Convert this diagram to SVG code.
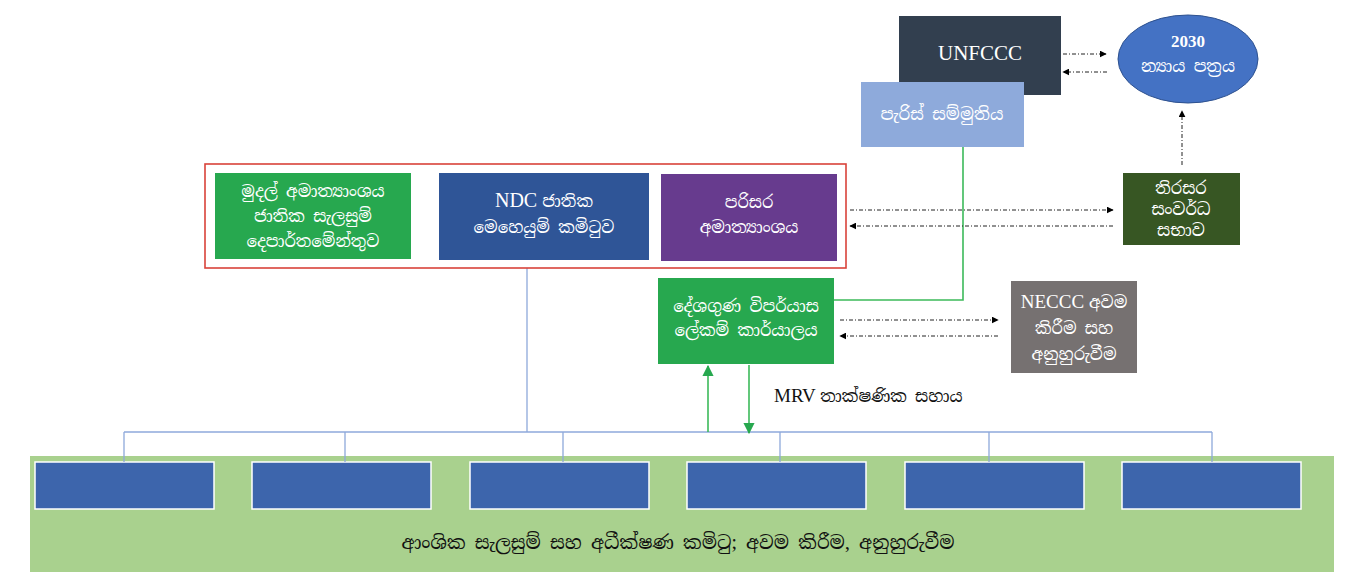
<svg xmlns="http://www.w3.org/2000/svg" width="1345" height="575" viewBox="0 0 1345 575">
  <style>
    .si { font-family: "Noto Serif Sinhala", "Noto Sans Sinhala", "Iskoola Pota", "Liberation Serif", serif; }
    .lat { font-family: "Liberation Serif", "Times New Roman", serif; }
    .w { fill: #ffffff; text-anchor: middle; }
    .k { fill: #111111; }
    .dd { stroke: #222222; stroke-width: 1; stroke-dasharray: 4 2 1 2; fill: none; }
    .tree { stroke: #8ea9db; stroke-width: 1.3; fill: none; }
    .gl { stroke: #3cba5a; stroke-width: 1.6; fill: none; }
    .sub { fill: #3d65ac; stroke: #ffffff; stroke-width: 1.5; }
  </style>
  <defs>
    <marker id="ah" viewBox="0 0 10 10" refX="9" refY="5" markerWidth="7" markerHeight="7" orient="auto">
      <path d="M0,0 L10,5 L0,10 z" fill="#000000"/>
    </marker>
    <marker id="ahg" viewBox="0 0 10 10" refX="9" refY="5" markerWidth="7" markerHeight="7" orient="auto">
      <path d="M0,0 L10,5 L0,10 z" fill="#27a84f"/>
    </marker>
  </defs>

  <rect width="1345" height="575" fill="#ffffff"/>

  <!-- sectoral band -->
  <g id="sectoral">
    <rect x="30" y="456" width="1304" height="116" fill="#a9d18e"/>
    <rect class="sub" x="35" y="462" width="179" height="47"/>
    <rect class="sub" x="252" y="462" width="179" height="47"/>
    <rect class="sub" x="470" y="462" width="179" height="47"/>
    <rect class="sub" x="687" y="462" width="179" height="47"/>
    <rect class="sub" x="905" y="462" width="179" height="47"/>
    <rect class="sub" x="1122" y="462" width="179" height="47"/>
    <text class="si k" x="678" y="549" font-size="18.5" text-anchor="middle">ආංශික සැලසුම් සහ අධීක්ෂණ කමිටු; අවම කිරීම, අනුහුරුවීම</text>
  </g>

  <!-- connectors -->
  <g id="connectors">
    <path class="tree" d="M527,268 V432 M124,432 H1212 M124,432 V462 M345,432 V462 M563,432 V462 M780,432 V462 M989,432 V462 M1212,432 V462"/>
    <path class="gl" d="M963,147 V300 H834"/>
    <line class="gl" x1="708" y1="432" x2="708" y2="366" marker-end="url(#ahg)"/>
    <line class="gl" x1="749" y1="365" x2="749" y2="433" marker-end="url(#ahg)"/>
    <line class="dd" x1="1063" y1="54" x2="1106" y2="54" marker-end="url(#ah)"/>
    <line class="dd" x1="1107" y1="72" x2="1063" y2="72" marker-end="url(#ah)"/>
    <line class="dd" x1="1182" y1="165" x2="1182" y2="111" marker-end="url(#ah)"/>
    <line class="dd" x1="850" y1="210" x2="1113" y2="210" marker-end="url(#ah)"/>
    <line class="dd" x1="1113" y1="226" x2="850" y2="226" marker-end="url(#ah)"/>
    <line class="dd" x1="840" y1="320" x2="998" y2="320" marker-end="url(#ah)"/>
    <line class="dd" x1="998" y1="336" x2="840" y2="336" marker-end="url(#ah)"/>
  </g>

  <g id="mrv-label">
    <text x="774" y="402" class="k"><tspan class="lat" font-size="19">MRV </tspan><tspan class="si" font-size="16.5">තාක්ෂණික සහාය</tspan></text>
  </g>

  <!-- national group frame -->
  <g id="national-group">
    <rect x="205" y="164" width="641" height="104" fill="none" stroke="#d9433a" stroke-width="1.6"/>
  </g>

  <g id="finance">
    <rect x="215" y="173" width="196" height="86" fill="#27a84f"/>
    <text class="si w" x="313" y="197" font-size="16.5">මුදල් අමාත්‍යාංශය</text>
    <text class="si w" x="313" y="222" font-size="16.5">ජාතික සැලසුම්</text>
    <text class="si w" x="313" y="247" font-size="16.5">දෙපාර්තමේන්තුව</text>
  </g>

  <g id="ndc">
    <rect x="439" y="173" width="210" height="87" fill="#2f5597"/>
    <text class="w" x="544" y="207"><tspan class="lat" font-size="20">NDC </tspan><tspan class="si" font-size="16.5">ජාතික</tspan></text>
    <text class="si w" x="544" y="233" font-size="16.5">මෙහෙයුම් කමිටුව</text>
  </g>

  <g id="environment">
    <rect x="661" y="174" width="176" height="87" fill="#673b8e"/>
    <text class="si w" x="749" y="208" font-size="16.5">පරිසර</text>
    <text class="si w" x="749" y="233" font-size="16.5">අමාත්‍යාංශය</text>
  </g>

  <g id="unfccc">
    <rect x="899" y="16" width="162" height="79" fill="#323f4f"/>
    <text class="lat w" x="980" y="60" font-size="21">UNFCCC</text>
  </g>

  <g id="paris">
    <rect x="861" y="82" width="163" height="65" fill="#8eaadb"/>
    <text class="si w" x="942" y="120" font-size="17">පැරිස් සම්මුතිය</text>
  </g>

  <g id="agenda2030">
    <ellipse cx="1188" cy="59" rx="70" ry="44" fill="#4472c4" stroke="#2f528f" stroke-width="1"/>
    <text class="lat w" x="1188" y="47" font-size="17" font-weight="bold">2030</text>
    <text class="si w" x="1188" y="72" font-size="16.5">න්‍යාය පත්‍රය</text>
  </g>

  <g id="sd-council">
    <rect x="1123" y="173" width="117" height="72" fill="#375623"/>
    <text class="si w" x="1181" y="194" font-size="16.5">තිරසර</text>
    <text class="si w" x="1181" y="215" font-size="16.5">සංවර්ධ</text>
    <text class="si w" x="1181" y="236" font-size="16.5">සභාව</text>
  </g>

  <g id="secretariat">
    <rect x="658" y="278" width="176" height="86" fill="#27a84f"/>
    <text class="si w" x="746" y="312" font-size="16.5">දේශගුණ විපර්යාස</text>
    <text class="si w" x="746" y="336" font-size="16.5">ලේකම් කාර්යාලය</text>
  </g>

  <g id="neccc">
    <rect x="1011" y="281" width="126" height="92" fill="#767171"/>
    <text class="w" x="1074" y="308"><tspan class="lat" font-size="19">NECCC </tspan><tspan class="si" font-size="16.5">අවම</tspan></text>
    <text class="si w" x="1074" y="334" font-size="16.5">කිරීම සහ</text>
    <text class="si w" x="1074" y="360" font-size="16.5">අනුහුරුවීම</text>
  </g>
</svg>
